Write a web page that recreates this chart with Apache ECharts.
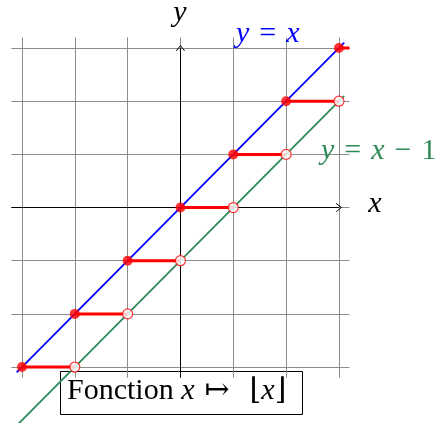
<!DOCTYPE html>
<html lang="fr">
<head>
<meta charset="UTF-8">
<title>Fonction partie entière</title>
<script src="https://cdn.jsdelivr.net/npm/echarts@6/dist/echarts.min.js"></script>
<style>
  html, body { margin: 0; padding: 0; background: #fff; }
  #chart { width: 440px; height: 423px; }
</style>
</head>
<body>
<div id="chart"></div>
<script>
// grille et axes
const gridTicks = [-3, -2, -1, 0, 1, 2, 3];
const axisMin = -3.2;
const axisMax = 3.2;
const arrowEnd = 3;

// droites y = x et y = x - 1
const lineX = [-3.1, 3.1];
const identityY = [-3.1, 3.1];
const shiftedY = [-4.1, 2.1];

// marches de la partie entière
const stepStart = [-3, -2, -1, 0, 1, 2, 3];
const stepEnd = [-2, -1, 0, 1, 2, 3, 3.2];
const stepValue = [-3, -2, -1, 0, 1, 2, 3];
// points ouverts (extrémités droites exclues)
const openX = [-2, -1, 0, 1, 2, 3];
const openY = [-3, -2, -1, 0, 1, 2];

const serif = '"Liberation Serif", "DejaVu Serif", serif';
const red = '#ff0000';
const sp = '\u2004'; // espace un peu plus large, comme en mode math

const chart = echarts.init(document.getElementById('chart'));

const stepSeries = stepStart.map((s, i) => ({
  type: 'line',
  data: [[s, stepValue[i]], [stepEnd[i], stepValue[i]]],
  showSymbol: false,
  silent: true,
  z: 4,
  lineStyle: { color: red, width: 3 }
}));

function mathText(str, color) {
  return {
    text: str, fontFamily: serif, fontSize: 30, fill: color,
    align: 'left', verticalAlign: 'middle',
    rich: { i: { fontStyle: 'italic', fontFamily: serif, fontSize: 30, fill: color } }
  };
}

const option = {
  animation: false,
  grid: { left: 11.4, width: 338.1, top: 37.4, height: 340.3 },
  xAxis: {
    type: 'value', min: axisMin, max: axisMax,
    axisLine: { show: false }, axisTick: { show: false },
    axisLabel: { show: false }, splitLine: { show: false }
  },
  yAxis: {
    type: 'value', min: axisMin, max: axisMax,
    axisLine: { show: false }, axisTick: { show: false },
    axisLabel: { show: false }, splitLine: { show: false }
  },
  series: [
    // quadrillage
    {
      type: 'line', data: [], silent: true, z: 1,
      markLine: {
        silent: true, symbol: 'none', label: { show: false }, z: 1,
        lineStyle: { color: '#8c8c8c', width: 1, type: 'solid' },
        data: gridTicks.map(k => ({ xAxis: k })).concat(gridTicks.map(k => ({ yAxis: k })))
      }
    },
    // axes avec flèches
    {
      type: 'line', data: [], silent: true, z: 2,
      markLine: {
        silent: true, z: 2,
        symbol: ['none', 'path://M0,10 L10,0 L20,10 L18.5,10.8 L10,2.2 L1.5,10.8 Z'],
        symbolSize: [9, 6],
        label: { show: false },
        lineStyle: { color: '#000', width: 1, type: 'solid' },
        data: [
          [{ coord: [axisMin, 0] }, { coord: [arrowEnd, 0] }],
          [{ coord: [0, axisMin] }, { coord: [0, arrowEnd] }]
        ]
      }
    },
    {
      type: 'line', name: 'y = x',
      data: lineX.map((x, i) => [x, identityY[i]]),
      showSymbol: false, silent: true, z: 3, clip: false,
      lineStyle: { color: '#0000ff', width: 1.8 }
    },
    {
      type: 'line', name: 'y = x - 1',
      data: lineX.map((x, i) => [x, shiftedY[i]]),
      showSymbol: false, silent: true, z: 3, clip: false,
      lineStyle: { color: '#2e8b57', width: 1.8 }
    },
    ...stepSeries,
    {
      type: 'scatter',
      data: stepStart.map((s, i) => [s, stepValue[i]]),
      symbolSize: 10, silent: true, z: 5,
      itemStyle: { color: red }
    },
    {
      type: 'scatter',
      data: openX.map((x, i) => [x, openY[i]]),
      symbolSize: 10, silent: true, z: 5,
      itemStyle: { color: '#fff', borderColor: red, borderWidth: 1.2 }
    }
  ],
  graphic: [
    {
      type: 'text', x: 180, y: 13, z: 10,
      style: { text: 'y', font: 'italic 30px ' + serif, fill: '#000', align: 'center', verticalAlign: 'middle' }
    },
    {
      type: 'text', x: 375, y: 204, z: 10,
      style: { text: 'x', font: 'italic 30px ' + serif, fill: '#000', align: 'center', verticalAlign: 'middle' }
    },
    {
      type: 'text', x: 236, y: 34, z: 10,
      style: mathText('{i|y}' + sp + '=' + sp + '{i|x}', '#0000ff')
    },
    {
      type: 'text', x: 321, y: 151, z: 10,
      style: mathText('{i|y}' + sp + '=' + sp + '{i|x}' + sp + '−' + sp + '1', '#2e8b57')
    },
    {
      type: 'group', z: 20,
      children: [
        {
          type: 'rect', shape: { x: 60.5, y: 371.5, width: 242, height: 43 },
          style: { fill: '#fff', stroke: '#000', lineWidth: 1 }
        },
        {
          type: 'text', x: 67, y: 391,
          style: mathText('Fonction {i|x}' + sp + '↦' + sp + sp + '⌊{i|x}⌋', '#000')
        }
      ]
    }
  ]
};

chart.setOption(option);
</script>
</body>
</html>
